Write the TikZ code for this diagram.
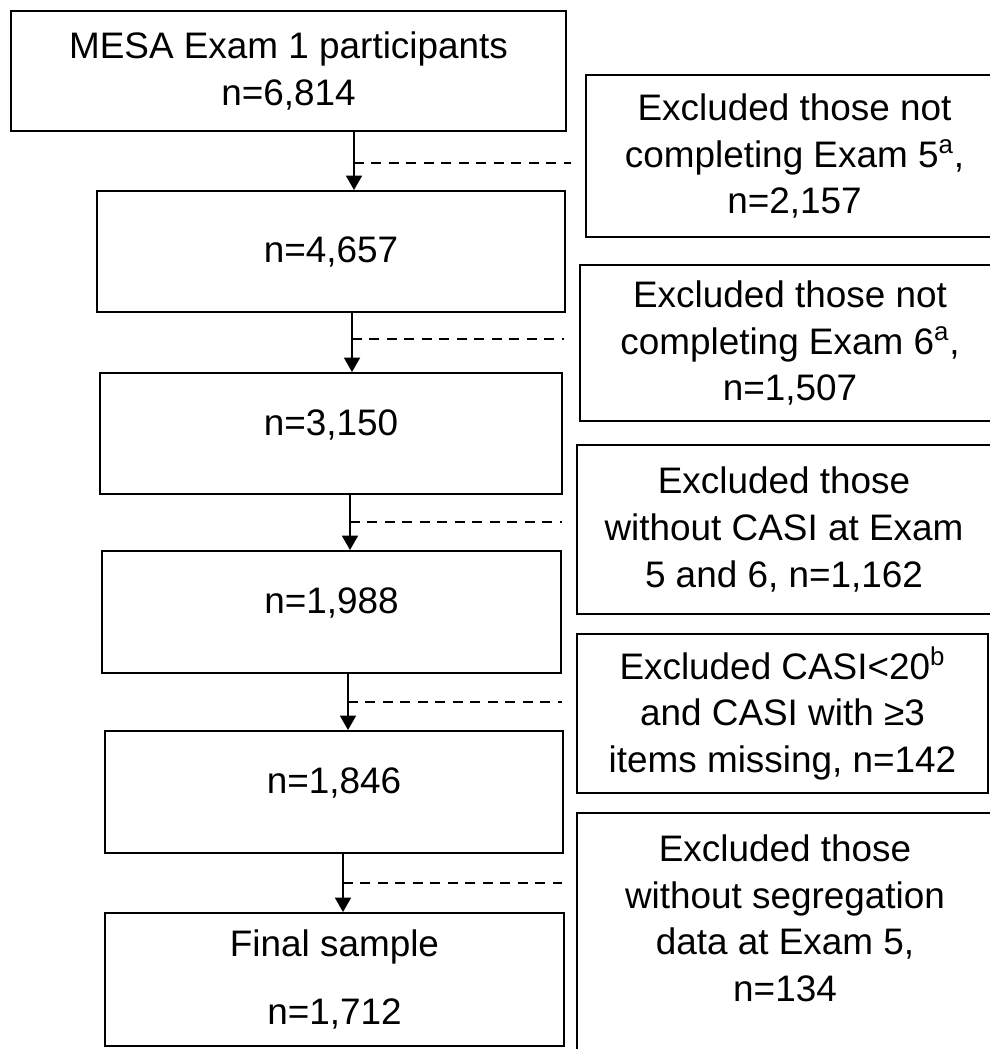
\documentclass[tikz,border=0pt]{standalone}
\usepackage{fontspec}
\setmainfont{Liberation Sans}
\usetikzlibrary{arrows.meta}

\begin{document}
\begin{tikzpicture}[
  x=0.02cm, y=-0.02cm,
  every node/.style={draw,line width=1.1pt,rectangle,align=center,font=\fontsize{21}{26.5}\selectfont},
  stage/.style={minimum height=2.42cm},
  lifted/.style={text depth=0.44cm},
  excl/.style={minimum width=8.3cm},
  flow/.style={-{Triangle[width=0.32cm,length=0.29cm]},line width=1.1pt},
  dashline/.style={dash pattern=on 0.2cm off 0.15cm,line width=1.1pt}]

  \useasboundingbox (0,0) rectangle (990,1049);
  \clip (0,0) rectangle (990,1049);

  \node(mesa)  [stage,minimum width=11.1cm,minimum height=2.4cm] at (288.5,71) {MESA Exam 1 participants\\n=6,814};
  \node(exam5) [stage,minimum width=9.36cm]                       at (331,251.5) {n=4,657};
  \node(exam6) [stage,lifted,minimum width=9.24cm]                at (331,433.5) {n=3,150};
  \node(casi)  [stage,lifted,minimum width=9.18cm,minimum height=2.44cm] at (331.5,612) {n=1,988};
  \node(score) [stage,lifted,minimum width=9.16cm,minimum height=2.44cm] at (334,792) {n=1,846};
  \node(final) [stage,minimum width=9.18cm,minimum height=2.66cm] at (334.5,979.5) {Final sample\\[12pt]n=1,712};

  \node(noexam5) [excl,minimum width=8.34cm,minimum height=3.24cm] at (794.5,156)
    {Excluded those not\\completing Exam 5\textsuperscript{a},\\n=2,157};
  \node(noexam6) [excl,minimum width=8.4cm,minimum height=3.13cm]  at (790,343)
    {Excluded those not\\completing Exam 6\textsuperscript{a},\\n=1,507};
  \node(nocasi)  [excl,minimum width=8.28cm,minimum height=3.38cm] at (784,529.5)
    {Excluded those\\without CASI at Exam\\5 and 6, n=1,162};
  \node(lowcasi) [excl,minimum width=8.22cm,minimum height=3.18cm] at (782.5,713.5)
    {Excluded CASI<20\textsuperscript{b}\\and CASI with ≥3\\items missing, n=142};
  \node(noseg)   [excl,minimum width=8.32cm,minimum height=5.24cm] at (785,944)
    {Excluded those\\without segregation\\data at Exam 5,\\n=134\rule[-1.04cm]{0pt}{0pt}};

  \coordinate(split1) at (354,163);
  \coordinate(split2) at (352,339);
  \coordinate(split3) at (350,522);
  \coordinate(split4) at (348,702);
  \coordinate(split5) at (343,883);

  \draw[flow] (mesa.south -| split1)  -- (exam5.north -| split1);
  \draw[flow] (exam5.south -| split2) -- (exam6.north -| split2);
  \draw[flow] (exam6.south -| split3) -- (casi.north -| split3);
  \draw[flow] (casi.south -| split4)  -- (score.north -| split4);
  \draw[flow] (score.south -| split5) -- (final.north -| split5);

  \draw[dashline] (split1) -- ([xshift=-0.28cm]noexam5.west |- split1);
  \draw[dashline] (split2) -- ([xshift=-0.3cm]noexam6.west |- split2);
  \draw[dashline] (split3) -- ([xshift=-0.28cm]nocasi.west |- split3);
  \draw[dashline] (split4) -- ([xshift=-0.28cm]lowcasi.west |- split4);
  \draw[dashline] (split5) -- ([xshift=-0.28cm]noseg.west |- split5);

\end{tikzpicture}
\end{document}
